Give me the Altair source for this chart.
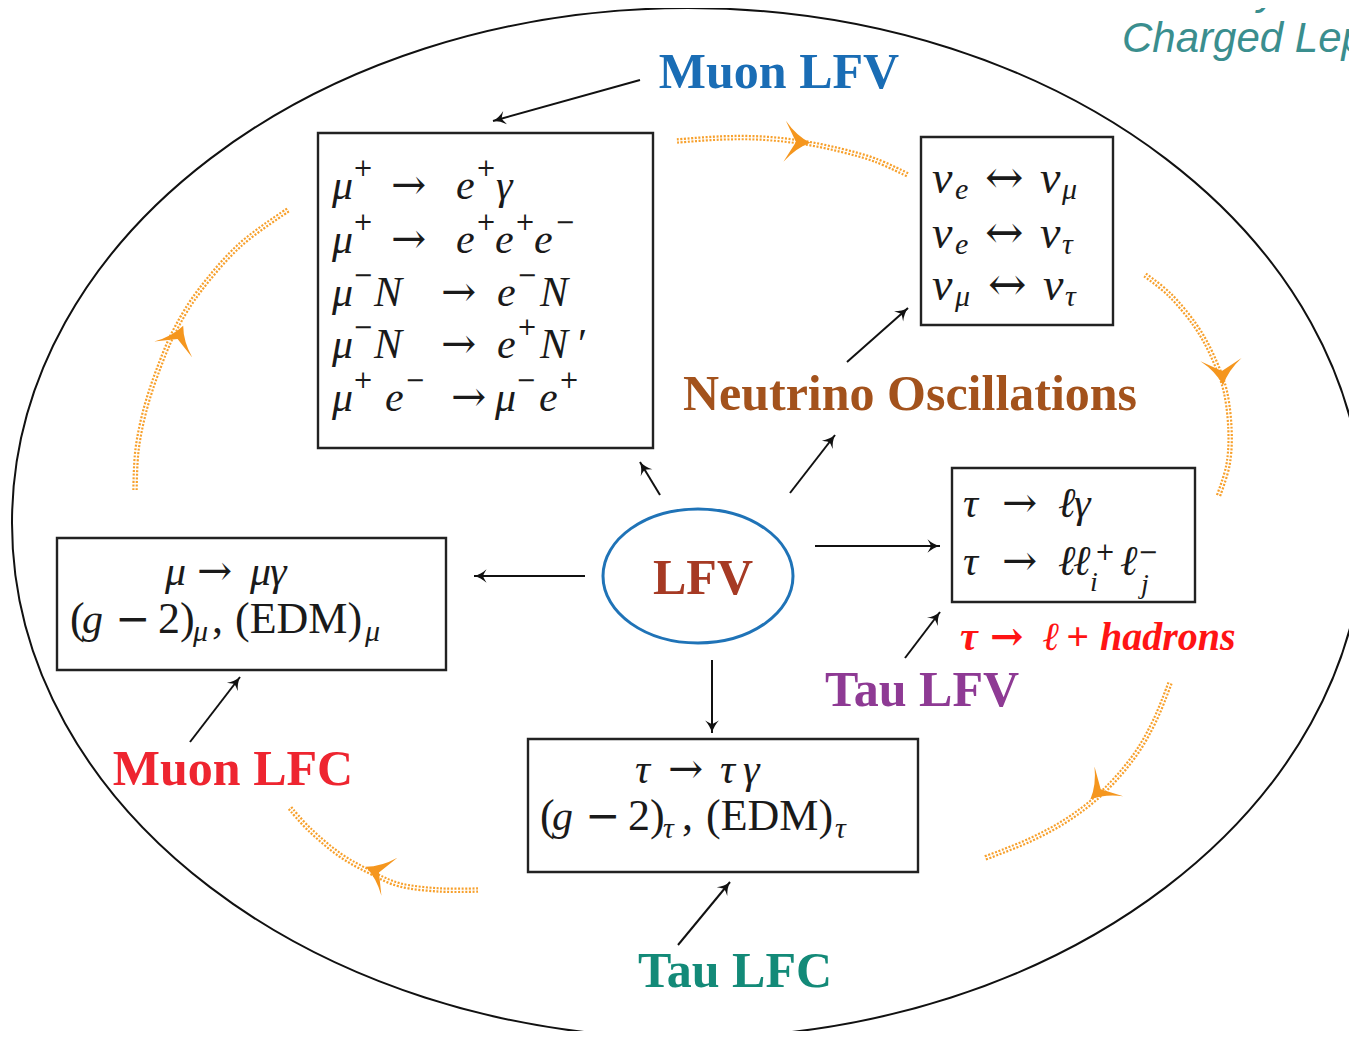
import math
import pandas as pd
import altair as alt

# ---------------- layout data (page pixel coordinates) ----------------
# big outer ellipse and LFV ellipse: centre x, centre y, half width, half height
ell_cx = [688, 698]
ell_cy = [523, 576]
ell_rx = [676, 95]
ell_ry = [515, 67]
ell_col = ["#111111", "#1f73b7"]
ell_w = [2.0, 3.0]

# boxes
box_x1 = [318, 921, 952, 57, 528]
box_x2 = [653, 1113, 1195, 446, 918]
box_y1 = [133, 137, 468, 538, 739]
box_y2 = [448, 325, 602, 670, 872]

# black arrows: start -> tip
arr_x1 = [640, 660, 790, 847, 815, 585, 712, 905, 190, 678]
arr_y1 = [80, 495, 493, 362, 546, 576, 660, 658, 742, 945]
arr_x2 = [493, 640, 835, 908, 940, 474, 712, 940, 240, 730]
arr_y2 = [121, 462, 435, 308, 546, 576, 733, 612, 677, 882]

# orange cycle arcs (points read along each arc)
arc_id = [0]*7 + [1]*8 + [2]*7 + [3]*7 + [4]*8
arc_x = [677, 720, 760, 800, 840, 875, 908,
         1145, 1170, 1195, 1212, 1225, 1230, 1228, 1218,
         1170, 1155, 1135, 1105, 1070, 1030, 985,
         478, 440, 400, 370, 340, 310, 290,
         135, 137, 145, 158, 175, 200, 240, 288]
arc_y = [141, 138, 138, 142, 150, 160, 175,
         275, 295, 325, 355, 390, 430, 465, 497,
         683, 720, 755, 790, 818, 840, 858,
         890, 890, 885, 872, 855, 830, 808,
         490, 450, 410, 370, 330, 290, 245, 210]
# orange arrowheads: position and direction
oh_x = [797, 1222, 1100, 378, 178]
oh_y = [142, 372, 790, 872, 338]
oh_dx = [1, 0.08, -0.72, -1, 0.42]
oh_dy = [0.06, 1, 0.7, -0.42, -1]

# coloured bold labels
lab_text = ["Muon LFV", "Neutrino Oscillations", "LFV", "Tau LFV", "Muon LFC", "Tau LFC"]
lab_x = [779, 910, 703, 922, 233, 735]
lab_y = [88, 410, 594, 706, 785, 987]
lab_col = ["#1a6db5", "#a3521c", "#a63a24", "#8e3a94", "#ee2530", "#138a78"]

# formula tokens: text, x (left), baseline y, font size, style
#   it = italic serif, up = upright serif, sym = math symbol font
tokens = [
    # Muon LFV box
    ("μ", 332, 199, 42, "it"), ("+", 353, 176, 24, "sym"), ("→", 391, 199, 42, "sym"),
    ("e", 456, 199, 42, "it"), ("+", 476, 176, 24, "sym"), ("γ", 496, 199, 42, "it"),
    ("μ", 332, 253, 42, "it"), ("+", 353, 230, 24, "sym"), ("→", 391, 253, 42, "sym"),
    ("e", 456, 253, 42, "it"), ("+", 476, 230, 24, "sym"), ("e", 495, 253, 42, "it"),
    ("+", 515, 230, 24, "sym"), ("e", 534, 253, 42, "it"), ("−", 555, 230, 24, "sym"),
    ("μ", 332, 306, 42, "it"), ("−", 353, 283, 24, "sym"), ("N", 374, 306, 42, "it"),
    ("→", 441, 306, 42, "sym"), ("e", 497, 306, 42, "it"), ("−", 517, 283, 24, "sym"),
    ("N", 540, 306, 42, "it"),
    ("μ", 332, 358, 42, "it"), ("−", 353, 335, 24, "sym"), ("N", 374, 358, 42, "it"),
    ("→", 441, 358, 42, "sym"), ("e", 497, 358, 42, "it"), ("+", 517, 335, 24, "sym"),
    ("N", 540, 358, 42, "it"), ("′", 578, 358, 42, "up"),
    ("μ", 332, 411, 42, "it"), ("+", 353, 388, 24, "sym"), ("e", 385, 411, 42, "it"),
    ("−", 405, 388, 24, "sym"), ("→", 451, 411, 42, "sym"), ("μ", 495, 411, 42, "it"),
    ("−", 516, 388, 24, "sym"), ("e", 539, 411, 42, "it"), ("+", 559, 388, 24, "sym"),
    # neutrino box
    ("ν", 932, 193, 46, "it"), ("e", 955, 199, 30, "it"), ("↔", 985, 193, 46, "sym"),
    ("ν", 1040, 193, 46, "it"), ("μ", 1062, 199, 30, "it"),
    ("ν", 932, 248, 46, "it"), ("e", 955, 254, 30, "it"), ("↔", 985, 248, 46, "sym"),
    ("ν", 1040, 248, 46, "it"), ("τ", 1062, 254, 30, "it"),
    ("ν", 932, 300, 46, "it"), ("μ", 955, 306, 30, "it"), ("↔", 988, 300, 46, "sym"),
    ("ν", 1043, 300, 46, "it"), ("τ", 1065, 306, 30, "it"),
    # tau LFV box
    ("τ", 963, 517, 42, "it"), ("→", 1002, 517, 42, "sym"), ("ℓ", 1058, 517, 42, "it"),
    ("γ", 1074, 517, 42, "it"),
    ("τ", 963, 575, 42, "it"), ("→", 1002, 575, 42, "sym"), ("ℓ", 1058, 575, 42, "it"),
    ("ℓ", 1073, 575, 42, "it"), ("+", 1095, 560, 24, "sym"), ("i", 1090, 591, 28, "it"),
    ("ℓ", 1120, 575, 42, "it"), ("−", 1138, 560, 24, "sym"), ("j", 1141, 593, 28, "it"),
    # muon LFC box
    ("μ", 165, 585, 42, "it"), ("→", 197, 585, 42, "sym"), ("μ", 250, 585, 42, "it"),
    ("γ", 270, 585, 42, "it"),
    ("(", 70, 633, 44, "up"), ("g", 82, 633, 42, "it"), ("−", 115, 633, 42, "sym"),
    ("2)", 158, 633, 44, "up"), ("μ", 193, 641, 30, "it"), (",", 212, 633, 44, "up"),
    ("(EDM)", 235, 633, 44, "up"), ("μ", 365, 641, 30, "it"),
    # tau LFC box
    ("τ", 635, 783, 42, "it"), ("→", 668, 783, 42, "sym"), ("τ", 720, 783, 42, "it"),
    ("γ", 743, 783, 42, "it"),
    ("(", 540, 830, 44, "up"), ("g", 552, 830, 42, "it"), ("−", 585, 830, 42, "sym"),
    ("2)", 628, 830, 44, "up"), ("τ", 663, 838, 30, "it"), (",", 682, 830, 44, "up"),
    ("(EDM)", 706, 830, 44, "up"), ("τ", 835, 838, 30, "it"),
]

# red tau -> l + hadrons label, as pieces
red_text = ["τ", "→", "ℓ", "+", "hadrons"]
red_x = [960, 990, 1043, 1066, 1100]
red_y = [650, 650, 650, 650, 650]
red_sym = [False, True, False, False, False]

corner_text = ["Intensity Frontier:", "Charged Lepton Flavor"]
corner_x = [1122, 1122]
corner_y = [4, 52]

# ---------------- scales and helpers ----------------
XS = alt.Scale(domain=[8, 1349], zero=False, nice=False)
YS = alt.Scale(domain=[8, 1031], zero=False, nice=False, reverse=True)


def X(f):
    return alt.X(f, type="quantitative", scale=XS, axis=None)


def Y(f):
    return alt.Y(f, type="quantitative", scale=YS, axis=None)


def ang(dx, dy):
    return (math.degrees(math.atan2(dx, -dy)) + 360) % 360


layers = []

# ellipses (custom symbol paths)
for cx, cy, rx, ry, col, w in zip(ell_cx, ell_cy, ell_rx, ell_ry, ell_col, ell_w):
    r = ry / rx
    k = 0.5523
    path = (f"M -1 0 C -1 {-k*r:.4f} {-k:.4f} {-r:.4f} 0 {-r:.4f} "
            f"C {k:.4f} {-r:.4f} 1 {-k*r:.4f} 1 0 "
            f"C 1 {k*r:.4f} {k:.4f} {r:.4f} 0 {r:.4f} "
            f"C {-k:.4f} {r:.4f} -1 {k*r:.4f} -1 0 Z")
    d = pd.DataFrame({"x": [cx], "y": [cy]})
    layers.append(alt.Chart(d).mark_point(shape=path, size=(2 * rx) ** 2, filled=False,
                                          color=col, strokeWidth=w, opacity=1)
                  .encode(x=X("x"), y=Y("y")))

# orange arcs
arcs = pd.DataFrame({"id": arc_id, "x": arc_x, "y": arc_y, "o": list(range(len(arc_x)))})
layers.append(alt.Chart(arcs).mark_line(color="#f7a02c", strokeWidth=5.5, strokeDash=[2, 1.6],
                                        interpolate="cardinal")
              .encode(x=X("x"), y=Y("y"), detail="id:N", order="o:Q"))
layers.append(alt.Chart(arcs).mark_line(color="white", strokeWidth=1.1, interpolate="cardinal")
              .encode(x=X("x"), y=Y("y"), detail="id:N", order="o:Q"))

# orange arrowheads
oh = pd.DataFrame({"x": oh_x, "y": oh_y,
                   "a": [ang(a, b) for a, b in zip(oh_dx, oh_dy)]})
oh_path = "M 0 -0.65 Q 0.3 0.05 1 0.6 L 0 0.05 L -1 0.6 Q -0.3 0.05 0 -0.65 Z"
layers.append(alt.Chart(oh).mark_point(shape=oh_path, size=1700, filled=True, color="#f5961e",
                                       opacity=1, strokeWidth=0)
              .encode(x=X("x"), y=Y("y"), angle=alt.Angle("a:Q", scale=None)))

# boxes
boxes = pd.DataFrame({"x1": box_x1, "x2": box_x2, "y1": box_y1, "y2": box_y2})
layers.append(alt.Chart(boxes).mark_rect(fill="white", stroke="#222222", strokeWidth=2.4)
              .encode(x=X("x1"), x2="x2", y=Y("y1"), y2="y2"))

# black arrows
arr = pd.DataFrame({"x1": arr_x1, "y1": arr_y1, "x2": arr_x2, "y2": arr_y2})
arr["a"] = [ang(x2 - x1, y2 - y1) for x1, y1, x2, y2 in zip(arr_x1, arr_y1, arr_x2, arr_y2)]
layers.append(alt.Chart(arr).mark_rule(color="#111111", strokeWidth=2)
              .encode(x=X("x1"), y=Y("y1"), x2="x2", y2="y2"))
ah_path = "M 0 0 Q 0.15 0.6 0.6 1.1 Q 0.1 0.8 0 0.8 Q -0.1 0.8 -0.6 1.1 Q -0.15 0.6 0 0 Z"
layers.append(alt.Chart(arr).mark_point(shape=ah_path, size=520, filled=True, color="#111111",
                                        opacity=1, strokeWidth=0.5)
              .encode(x=X("x2"), y=Y("y2"), angle=alt.Angle("a:Q", scale=None)))

# formula tokens
tok = pd.DataFrame(tokens, columns=["t", "x", "y", "s", "st"])
for st, font, fstyle in [("it", "Liberation Serif", "italic"),
                         ("up", "Liberation Serif", "normal"),
                         ("sym", "DejaVu Serif", "normal")]:
    layers.append(alt.Chart(tok[tok.st == st]).mark_text(
        font=font, fontStyle=fstyle, align="left", baseline="alphabetic",
        color="#1a1a1a")
        .encode(x=X("x"), y=Y("y"), text="t:N", size=alt.Size("s:Q", scale=None)))

# coloured bold labels
labs = pd.DataFrame({"t": lab_text, "x": lab_x, "y": lab_y, "c": lab_col})
layers.append(alt.Chart(labs).mark_text(font="Liberation Serif", fontWeight="bold", fontSize=50,
                                        align="center", baseline="alphabetic")
              .encode(x=X("x"), y=Y("y"), text="t:N", color=alt.Color("c:N", scale=None)))

red = pd.DataFrame({"t": red_text, "x": red_x, "y": red_y, "sym": red_sym})
layers.append(alt.Chart(red[~red.sym]).mark_text(font="Liberation Serif", fontWeight="bold",
                                                 fontStyle="italic", fontSize=40, align="left",
                                                 baseline="alphabetic", color="#ff1414")
              .encode(x=X("x"), y=Y("y"), text="t:N"))
layers.append(alt.Chart(red[red.sym]).mark_text(font="DejaVu Serif", fontWeight="bold",
                                                fontSize=40, align="left",
                                                baseline="alphabetic", color="#ff1414")
              .encode(x=X("x"), y=Y("y"), text="t:N"))

corner = pd.DataFrame({"t": corner_text, "x": corner_x, "y": corner_y})
layers.append(alt.Chart(corner).mark_text(font="Liberation Sans", fontStyle="italic", fontSize=42,
                                          align="left", baseline="alphabetic", color="#3a8e8e")
              .encode(x=X("x"), y=Y("y"), text="t:N"))

chart = (alt.layer(*layers)
         .properties(width=1341, height=1023, autosize=alt.AutoSizeParams(type="none"), padding=0,
                     background="white")
         .configure_view(stroke=None))

chart.save("out.html", embed_options={"renderer": "svg", "actions": False})
